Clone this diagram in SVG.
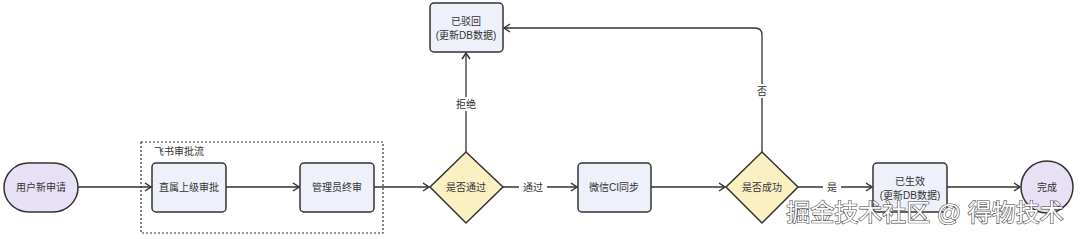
<svg xmlns="http://www.w3.org/2000/svg" width="1080" height="239" viewBox="0 0 1080 239">
<defs>
<marker id="ah" markerWidth="10" markerHeight="10" refX="8" refY="5" orient="auto" markerUnits="userSpaceOnUse">
<path d="M2,1 L8,5 L2,9" fill="none" stroke="#333" stroke-width="1.5"/>
</marker>
<style>
text{font-family:"Liberation Sans","Noto Sans CJK SC",sans-serif;font-size:10px;fill:#333;text-anchor:middle;dominant-baseline:central}
.box{fill:#eef0fa;stroke:#333;stroke-width:1.5}
.dia{fill:#fbf0c2;stroke:#333;stroke-width:1.5}
.term{fill:#e8e1f6;stroke:#333;stroke-width:1.5}
.edge{fill:none;stroke:#333;stroke-width:1.3;marker-end:url(#ah)}
.lbl{fill:#fff}
</style>
</defs>
<rect width="1080" height="239" fill="#fff"/>
<g id="group-feishu">
<rect x="141" y="142" width="242" height="91" fill="none" stroke="#333" stroke-width="1.2" stroke-dasharray="2,2"/>
<text x="154" y="151" style="text-anchor:start">飞书审批流</text>
</g>
<g id="connectors">
<path class="edge" d="M78,187 H151"/>
<path class="edge" d="M226,187 H299"/>
<path class="edge" d="M374,187 H429"/>
<path class="edge" d="M466,152 V53"/>
<rect class="lbl" x="454" y="97" width="24" height="14"/>
<text x="466" y="104">拒绝</text>
<path class="edge" d="M503,187 H577"/>
<rect class="lbl" x="519" y="180" width="28" height="14"/>
<text x="533" y="187">通过</text>
<path class="edge" d="M651,187 H725"/>
<path class="edge" d="M762,152 V35 Q762,28 755,28 H504"/>
<rect class="lbl" x="755" y="84" width="14" height="14"/>
<text x="762" y="91">否</text>
<path class="edge" d="M798,187 H872"/>
<rect class="lbl" x="823" y="180" width="18" height="14"/>
<text x="832" y="187">是</text>
<path class="edge" d="M947,187 H1020"/>
</g>
<g id="start">
<rect class="term" x="4" y="163" width="74" height="49" rx="24.5"/>
<text x="41" y="187">用户新申请</text>
</g>
<g id="leader">
<rect class="box" x="152" y="163" width="74" height="49" rx="4"/>
<text x="189" y="187">直属上级审批</text>
</g>
<g id="admin">
<rect class="box" x="300" y="163" width="74" height="49" rx="4"/>
<text x="337" y="187">管理员终审</text>
</g>
<g id="pass">
<path class="dia" d="M466,152 L503,187 L466,223 L430,187 Z"/>
<text x="466" y="187">是否通过</text>
</g>
<g id="rejected">
<rect class="box" x="430" y="3" width="73" height="49" rx="4"/>
<text x="466" y="21">已驳回</text>
<text x="466" y="35">(更新DB数据)</text>
</g>
<g id="sync">
<rect class="box" x="578" y="163" width="73" height="49" rx="4"/>
<text x="614" y="187">微信CI同步</text>
</g>
<g id="success">
<path class="dia" d="M762,152 L798,187 L762,223 L726,187 Z"/>
<text x="762" y="187">是否成功</text>
</g>
<g id="effective">
<rect class="box" x="873" y="163" width="74" height="49" rx="4"/>
<text x="910" y="181">已生效</text>
<text x="910" y="195">(更新DB数据)</text>
</g>
<g id="done">
<circle class="term" cx="1047" cy="187" r="26"/>
<text x="1047" y="187">完成</text>
</g>
<text x="925" y="212" style="font-size:24px;fill:#fff;stroke:#444;stroke-width:1.2;paint-order:stroke">掘金技术社区 @ 得物技术</text>
</svg>
